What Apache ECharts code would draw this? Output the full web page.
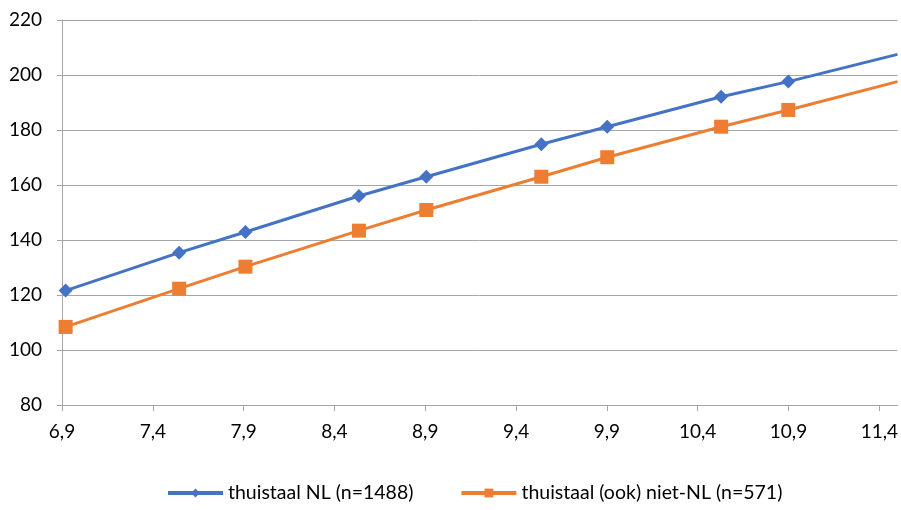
<!DOCTYPE html>
<html>
<head>
<meta charset="utf-8">
<script src="https://cdn.jsdelivr.net/npm/echarts@6/dist/echarts.min.js"></script>
<style>html,body{margin:0;padding:0;background:#fff}#c{width:901px;height:510px}</style>
</head>
<body>
<div id="c"></div>
<script>
var seriesNames = ['thuistaal NL (n=1488)', 'thuistaal (ook) niet-NL (n=571)'];
var agesNL = [6.92, 7.545, 7.91, 8.535, 8.906, 9.539, 9.902, 10.529, 10.899, 11.5];
var valuesNL = [121.6, 135.4, 142.9, 156.0, 163.0, 174.8, 181.2, 192.1, 197.6, 207.5];
var agesNonNL = [6.92, 7.545, 7.91, 8.535, 8.906, 9.539, 9.902, 10.529, 10.899, 11.5];
var valuesNonNL = [108.4, 122.3, 130.3, 143.4, 150.9, 163.0, 170.1, 181.2, 187.3, 197.6];
var xTicks = [6.9, 7.4, 7.9, 8.4, 8.9, 9.4, 9.9, 10.4, 10.9, 11.4];
var yTicks = [80, 100, 120, 140, 160, 180, 200, 220];

function pairs(xs, ys) {
  return xs.map(function (x, i) {
    var d = { value: [x, ys[i]] };
    if (i === xs.length - 1) d.symbol = 'none';
    return d;
  });
}
var font = 'Lato';
var gray = '#a6a6a6';
var chart = echarts.init(document.getElementById('c'));
chart.setOption({
  animation: false,
  textStyle: { fontFamily: font },
  grid: { left: 62, right: 2, top: 20, bottom: 105, containLabel: false },
  xAxis: {
    type: 'value',
    min: 6.9,
    max: 11.5,
    axisLine: { show: true, lineStyle: { color: gray, width: 1 } },
    axisTick: { show: true, length: 6, customValues: xTicks, lineStyle: { color: gray } },
    axisLabel: {
      customValues: xTicks, color: '#000', fontSize: 19, fontFamily: font, margin: 17,
      formatter: function (v) { return v.toFixed(1).replace('.', ','); }
    },
    splitLine: { show: false }
  },
  yAxis: {
    type: 'value',
    min: yTicks[0],
    max: yTicks[yTicks.length - 1],
    interval: 20,
    axisLine: { show: true, lineStyle: { color: gray, width: 1 } },
    axisTick: { show: true, length: 5, lineStyle: { color: gray } },
    axisLabel: { color: '#000', fontSize: 19, fontFamily: font, margin: 20 },
    splitLine: { show: true, lineStyle: { color: gray, width: 1 } }
  },
  legend: {
    bottom: 2,
    left: 161,
    itemWidth: 55,
    itemHeight: 11,
    itemGap: 46,
    lineStyle: { width: 4 },
    textStyle: { color: '#000', fontSize: 19.5, fontFamily: font },
    data: seriesNames
  },
  series: [
    {
      name: seriesNames[0], type: 'line', data: pairs(agesNL, valuesNL),
      symbol: 'diamond', symbolSize: 14, clip: true,
      lineStyle: { color: '#4472C4', width: 3 },
      itemStyle: { color: '#4472C4' }
    },
    {
      name: seriesNames[1], type: 'line', data: pairs(agesNonNL, valuesNonNL),
      symbol: 'rect', symbolSize: 14, clip: true,
      lineStyle: { color: '#ED7D31', width: 3 },
      itemStyle: { color: '#ED7D31' }
    }
  ]
});
</script>
</body>
</html>
